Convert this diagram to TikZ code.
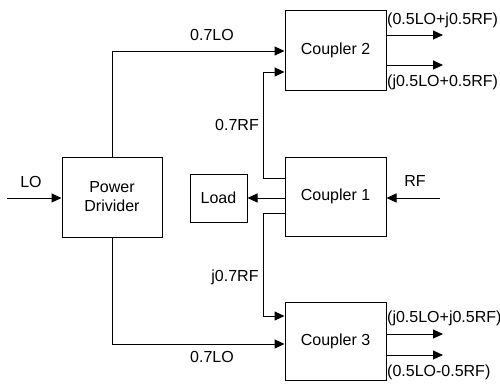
\documentclass[tikz,border=0pt]{standalone}
\usepackage{fontspec}
\setmainfont{Liberation Sans}
\usetikzlibrary{positioning, arrows.meta, calc}

\begin{document}
\begin{tikzpicture}[
    x=1pt, y=-1pt,
    blk/.style={rectangle, draw, line width=1pt, minimum height=80pt, minimum width=101pt,
                align=center, font=\fontsize{16}{19}\selectfont, inner sep=0pt},
    lbl/.style={font=\fontsize{16}{19}\selectfont, inner sep=0pt},
    arr/.style={-{Triangle[length=10pt, width=9pt]}, line width=1pt}
  ]
  \useasboundingbox (0,0) rectangle (500,383);
  \node[blk, minimum width=100pt] (pd) at (112,197) {Power\\Drivider};
  \node[blk] (c2) at (335.5,50) {Coupler 2};
  \node[blk, minimum height=79pt] (c1) at (335.5,196.5) {Coupler 1};
  \node[blk, minimum height=78pt] (c3) at (335.5,341) {Coupler 3};
  \node[blk, minimum width=57pt, minimum height=48pt] (load) at (218.5,198) {Load};

  \coordinate (lo) at (7,198);
  \coordinate (rf) at (440,198);
  \coordinate (c2a) at ([yshift=-1pt]c2.west);
  \coordinate (c2b) at ([yshift=-22pt]c2.west);
  \coordinate (c3a) at ([yshift=25pt]c3.west);
  \coordinate (c3b) at ([yshift=-3pt]c3.west);
  \coordinate (c1a) at ([yshift=18.5pt]c1.west);
  \coordinate (c1b) at ([yshift=-16.5pt]c1.west);

  \draw[arr] (lo) -- (pd.west |- lo);
  \draw[arr] (rf) -- (c1.east |- rf);
  \draw[arr] (c1.west |- load.east) -- (load.east);
  \draw[arr] (pd.north) |- (c2a);
  \draw[arr] (pd.south) |- (c3b);
  \draw[arr] (c1a) -- ++(-21,0) |- (c2b);
  \draw[arr] (c1b) -- ++(-21,0) |- (c3a);

  \coordinate (o1) at (443,35);
  \coordinate (o2) at (443,65);
  \coordinate (o3) at (443,334);
  \coordinate (o4) at (443,355);
  \draw[arr] (c2.east |- o1) -- (o1);
  \draw[arr] (c2.east |- o2) -- (o2);
  \draw[arr] (c3.east |- o3) -- (o3);
  \draw[arr] (c3.east |- o4) -- (o4);

  \node[lbl] (lotxt) at (31,182) {LO};
  \node[lbl] (rftxt) at (415,181) {RF};
  \node[lbl] (l1) at (212,35) {0.7LO};
  \node[lbl] (l2) at (212,357) {0.7LO};
  \node[lbl] (r1) at (237,125) {0.7RF};
  \node[lbl] (r2) at (235,277) {j0.7RF};
  \node[lbl, anchor=west] (t1) at (387,20) {(0.5LO+j0.5RF)};
  \node[lbl, anchor=west] (t2) at (387,82) {(j0.5LO+0.5RF)};
  \node[lbl, anchor=west] (t3) at (387,318) {(j0.5LO+j0.5RF)};
  \node[lbl, anchor=west] (t4) at (387,372) {(0.5LO-0.5RF)};
\end{tikzpicture}
\end{document}
